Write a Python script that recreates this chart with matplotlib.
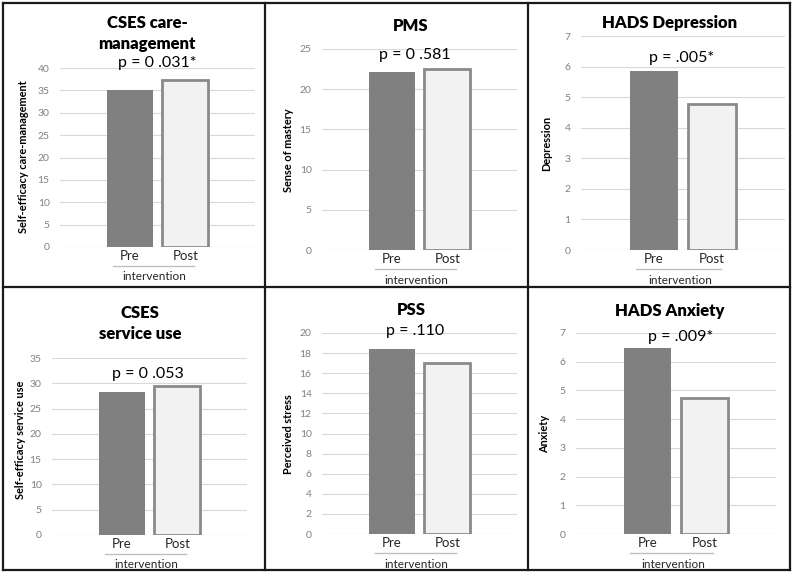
import matplotlib
matplotlib.use("Agg")
import matplotlib.pyplot as plt
from matplotlib.lines import Line2D

plt.rcParams['font.family'] = ['Lato', 'DejaVu Sans']

W, H = 793, 574

categories = ["Pre", "Post"]
group_label = "intervention"

titles = ["CSES care-\nmanagement", "PMS", "HADS Depression",
          "CSES\nservice use", "PSS", "HADS Anxiety"]
ylabels = ["Self-efficacy care-management", "Sense of mastery", "Depression",
           "Self-efficacy service use", "Perceived stress", "Anxiety"]
p_texts = ["p = 0 .031*", "p = 0 .581", "p = .005*",
           "p = 0 .053", "p = .110", "p = .009*"]

pre_values = [35.1, 22.2, 5.85, 28.2, 18.4, 6.48]
post_values = [37.3, 22.5, 4.79, 29.4, 17.0, 4.74]

y_max = [40, 25, 7, 35, 20, 7]
y_step = [5, 5, 1, 5, 2, 1]

# plot area in pixels: left, right, top (ymax), bottom (0)
areas = [(60, 255, 68, 247), (322, 517, 49, 250), (581, 785, 36, 250),
         (52, 247, 358, 535), (322, 517, 333, 534), (576, 776, 333, 534)]
# title centre x / top y ; p text centre x, y
title_pos = [(147, 15), (411, 18), (670, 15), (140, 305), (411, 302), (670, 303)]
p_pos = [(157, 63), (415, 55), (682, 58), (148, 374), (415, 331), (681, 337)]
ylabel_pos = [(24, 157), (289, 150), (547, 143), (21, 440), (289, 434), (545, 434)]

fig = plt.figure(figsize=(W / 100, H / 100), dpi=100)


def px(x, y):
    return x / W, 1 - y / H


for i in range(6):
    l, r, t, b = areas[i]
    ax = fig.add_axes([l / W, 1 - b / H, (r - l) / W, (b - t) / H])
    ax.bar([0], [pre_values[i]], width=0.83, color="#808080", zorder=3)
    ax.bar([1], [post_values[i]], width=0.83, color="#f2f2f2",
           edgecolor="#8a8a8a", linewidth=2, zorder=3)
    ax.set_xlim(-1.25, 2.25)
    ax.set_ylim(0, y_max[i])
    ticks = [k * y_step[i] for k in range(int(round(y_max[i] / y_step[i])) + 1)]
    ax.set_yticks(ticks)
    ax.tick_params(axis='y', length=0, pad=7.5, labelsize=7.5, labelcolor="#808080")
    ax.set_xticks([0, 1], categories)
    ax.tick_params(axis='x', length=0, pad=2, labelsize=9.5, labelcolor="#262626")
    ax.grid(axis='y', color="#d9d9d9", linewidth=0.8, zorder=0)
    for s in ax.spines.values():
        s.set_visible(False)
    ax.axhline(0, color="#d9d9d9", linewidth=0.8, zorder=1)
    hpx = b - t
    ax.add_line(Line2D([-0.3, 1.15], [-19 / hpx, -19 / hpx],
                       transform=ax.get_xaxis_transform(), color="#bfbfbf",
                       linewidth=1, clip_on=False))
    ax.text(0.45, -30 / hpx, group_label, transform=ax.get_xaxis_transform(),
            ha='center', va='center', fontsize=8.5, color="#262626")

    fig.text(*px(*ylabel_pos[i]), ylabels[i], rotation=90,
             ha='center', va='center', fontsize=7.9, fontweight='bold')
    fig.text(*px(*title_pos[i]), titles[i], ha='center', va='top',
             fontsize=12, fontweight='heavy', linespacing=1.35)
    fig.text(*px(*p_pos[i]), p_texts[i], ha='center', va='center', fontsize=11.5)

# panel borders
border = dict(color="#1a1a1a", linewidth=1.6)
for x in (2.5, 265, 528, 789.5):
    fig.add_artist(Line2D([x / W, x / W], [1 - 2.5 / H, 1 - 570 / H], **border))
for y in (2.5, 287, 570):
    fig.add_artist(Line2D([2.5 / W, 789.5 / W], [1 - y / H, 1 - y / H], **border))

fig.savefig("out.png", dpi=100)
